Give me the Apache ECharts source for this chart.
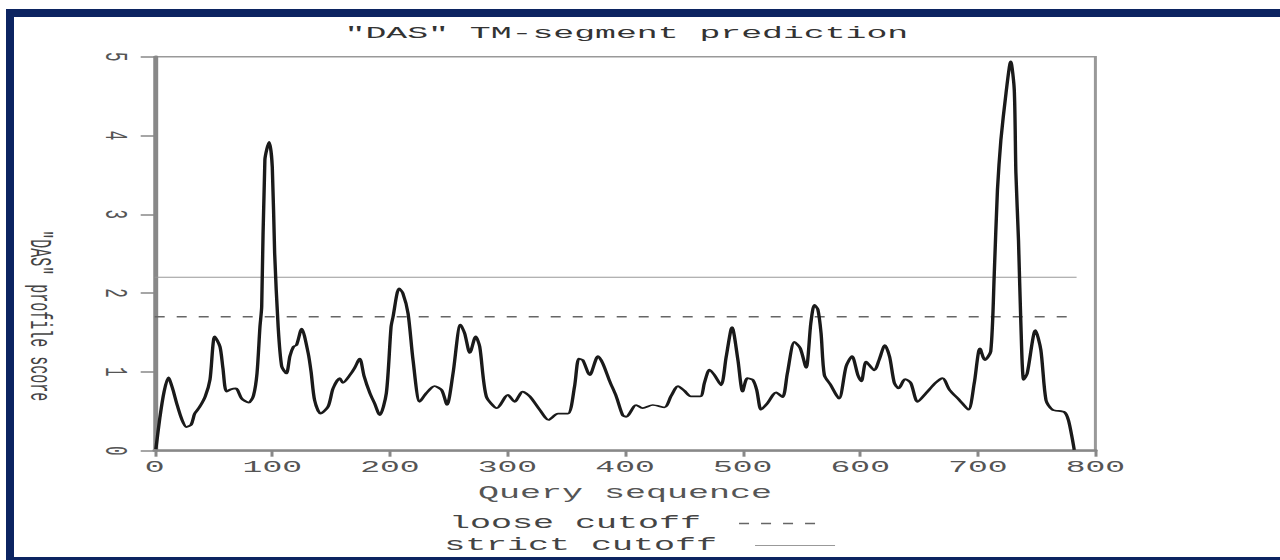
<!DOCTYPE html>
<html>
<head>
<meta charset="utf-8">
<script src="https://cdn.jsdelivr.net/npm/echarts@6/dist/echarts.min.js"></script>
<style>
html,body{margin:0;padding:0;background:#fff;overflow:hidden;}
#chart{width:640px;height:560px;transform:scaleX(2);transform-origin:0 0;}
</style>
</head>
<body>
<div id="chart"></div>
<script>
// ---- data ----
const titleText = '"DAS" TM-segment prediction';
const xAxisTitle = 'Query sequence';
const yAxisTitle = '"DAS" profile score';
const seqPos = [1,4.5,8,11.6,15,18.7,23,27,31,34,38,43,47,51,55.5,58,61,65,69,74,80,84,87,89.5,91,93.7,97.4,100,102,105,108,112,115,118,120.6,125,130.5,133,136,141,147.5,151.7,157.4,160,166,170,174.4,178,183,187,191.4,197,201,202.7,207.8,211,215.5,219.7,225.4,231,238,244,248.6,253.7,260,263.6,268,273,276.4,282,291,300.4,306,313,319,327.4,335,343,351.4,357,360.7,364,370,377,381,387,392.5,398,401,409.5,415,423.6,433.5,439,445,450.5,456,464,467.5,471.8,476,481.7,486,491,496,500,504,508.6,512,515.7,521,528.5,534,538,544,549,554,558,561,564,566.7,569.5,575,582,588,593,598,601,605,612,616,621,625,629,632.6,638.3,643,648.8,656,664,670,676,684.5,692,697,701.8,706,711,714,716.7,719.6,724,728,731,732.4,734.6,736.6,739,742,749,753.6,758,763.5,773.5,777,780.5,782];
const scores = [0.02,0.43,0.75,0.93,0.8,0.60,0.4,0.30,0.33,0.47,0.55,0.69,0.9,1.45,1.32,1.05,0.75,0.78,0.79,0.66,0.61,0.7,0.98,1.57,1.83,3.69,3.92,3.6,2.51,1.57,1.07,0.98,1.2,1.32,1.34,1.55,1.24,1.0,0.64,0.47,0.56,0.79,0.92,0.86,0.96,1.05,1.17,0.95,0.73,0.6,0.45,0.73,1.57,1.70,2.06,2.0,1.74,1.15,0.62,0.73,0.82,0.77,0.58,0.98,1.60,1.49,1.24,1.45,1.32,0.69,0.54,0.71,0.62,0.75,0.69,0.52,0.39,0.47,0.47,0.81,1.17,1.15,0.96,1.20,1.11,0.88,0.69,0.45,0.43,0.58,0.54,0.58,0.55,0.69,0.82,0.76,0.69,0.69,0.86,1.03,0.96,0.83,1.19,1.57,1.15,0.75,0.92,0.90,0.77,0.52,0.60,0.74,0.68,0.98,1.38,1.30,1.05,1.62,1.85,1.79,1.49,0.96,0.83,0.66,1.07,1.20,0.96,0.88,1.13,1.02,1.15,1.34,1.19,0.86,0.79,0.91,0.86,0.62,0.73,0.86,0.92,0.77,0.64,0.52,0.86,1.30,1.15,1.26,2.25,3.31,3.94,4.54,4.94,4.58,3.52,2.67,1.62,0.90,0.98,1.53,1.28,0.64,0.52,0.49,0.39,0.14,0.01];
const looseCutoff = 1.7;
const strictCutoff = 2.2;
const seqEnd = 784;
const legendNames = ['loose cutoff', 'strict cutoff'];

const FONT = '"Liberation Mono", "DejaVu Sans Mono", monospace';
const profile = seqPos.map((p, i) => [p, scores[i]]);

function legendFor(name, left, top, lineStyle) {
  return {
    orient: 'vertical', left: left, top: top, padding: 0, align: 'right',
    itemWidth: 40, itemHeight: 10,
    itemStyle: {color: 'rgba(0,0,0,0)', borderWidth: 0},
    textStyle: {fontFamily: FONT, fontSize: 17.5, color: '#444', padding: [0, 14, 12, 0]},
    data: [{name: name, lineStyle: lineStyle}]
  };
}

const chart = echarts.init(document.getElementById('chart'), null, {renderer: 'svg'});
chart.setOption({
  animation: false,
  backgroundColor: '#ffffff',
  title: {
    text: titleText, left: 172.3, top: 25, padding: 0,
    textStyle: {fontFamily: FONT, fontSize: 17.4, fontWeight: 'normal', color: '#333'}
  },
  grid: {left: 77.35, right: 92.3, top: 56.7, bottom: 109.3, show: true, borderColor: '#999', borderWidth: 1.5},
  legend: [
    legendFor(legendNames[0], 224.5, 514.5, {type: [5, 6], width: 1.5, color: '#666'}),
    legendFor(legendNames[1], 222, 536.5, {type: 'solid', width: 1, color: '#999'})
  ],
  xAxis: {
    type: 'value', min: 0, max: 800, interval: 100,
    name: xAxisTitle, nameLocation: 'middle', nameGap: 34,
    nameTextStyle: {fontFamily: FONT, fontSize: 17.5, color: '#555'},
    axisLine: {show: true, lineStyle: {color: '#888', width: 2.5}},
    axisTick: {show: true, length: 6, lineStyle: {color: '#888', width: 1.5}},
    axisLabel: {fontFamily: FONT, fontSize: 16.5, color: '#555', margin: 8},
    splitLine: {show: false}
  },
  yAxis: {
    type: 'value', min: 0, max: 5, interval: 1,
    name: yAxisTitle, nameLocation: 'middle', nameRotate: -90, nameGap: 50,
    nameTextStyle: {fontFamily: FONT, fontSize: 15, color: '#444', padding: [0, 0, 0, 124]},
    axisLine: {show: true, lineStyle: {color: '#888', width: 2.2}},
    axisTick: {show: true, length: 7, lineStyle: {color: '#888', width: 1.5}},
    axisLabel: {fontFamily: FONT, fontSize: 16, color: '#555', margin: 12, rotate: -90},
    splitLine: {show: false}
  },
  graphic: [
    {type: 'rect', shape: {x: 3, y: 9, width: 4, height: 551}, style: {fill: '#0c2461'}, silent: true},
    {type: 'rect', shape: {x: 3, y: 9, width: 637, height: 8}, style: {fill: '#0c2461'}, silent: true},
    {type: 'rect', shape: {x: 3, y: 557, width: 637, height: 3}, style: {fill: '#0c2461'}, silent: true}
  ],
  series: [
    {
      name: 'profile', type: 'line', data: profile, showSymbol: false, symbol: 'none',
      smooth: 0.25, lineStyle: {color: '#1a1a1a', width: 1.7}, z: 5
    },
    {
      name: legendNames[0], type: 'line', data: [[0, looseCutoff], [seqEnd, looseCutoff]],
      symbol: 'none', lineStyle: {color: '#666', width: 1.5, type: [5, 6]}, z: 3
    },
    {
      name: legendNames[1], type: 'line', data: [[0, strictCutoff], [seqEnd, strictCutoff]],
      symbol: 'none', lineStyle: {color: '#999', width: 1}, z: 3
    }
  ]
});
</script>
</body>
</html>
